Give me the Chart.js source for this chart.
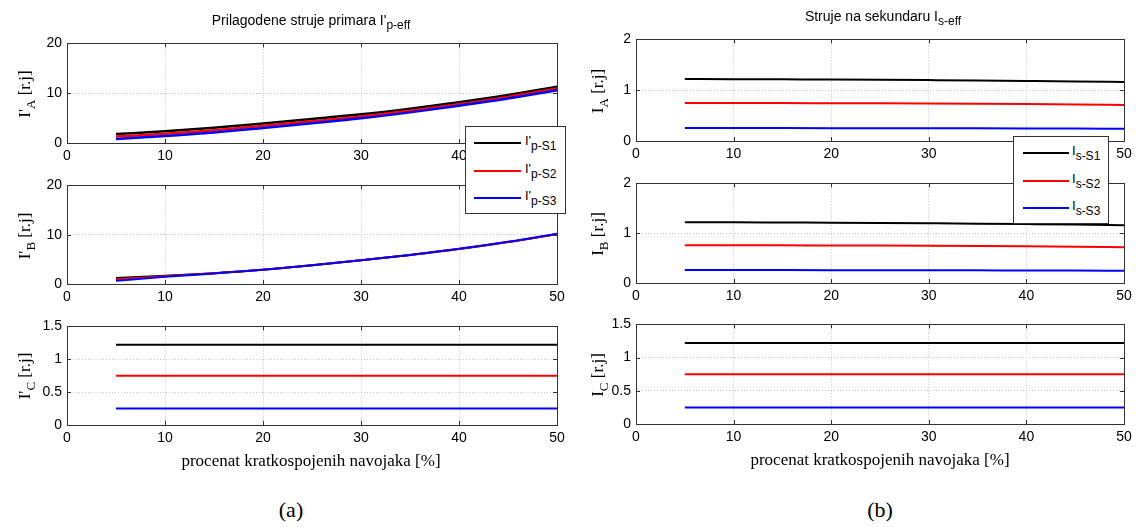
<!DOCTYPE html>
<html>
<head>
<meta charset="utf-8">
<script src="https://cdn.jsdelivr.net/npm/chart.js@4.4.1/dist/chart.umd.min.js"></script>
<style>
body { margin: 0; background: #fff; }
#page { position: relative; width: 1136px; height: 527px; overflow: hidden; font-family: "Liberation Sans", Arial, sans-serif; color: #000; }
canvas { position: absolute; }
.title { position: absolute; font-size: 14px; line-height: 16px; white-space: nowrap; transform: translateX(-50%); }
.title sub { font-size: 12px; vertical-align: -4px; line-height: 0; }
.ylab { position: absolute; font-family: "Liberation Serif", "Times New Roman", serif; font-size: 17px; line-height: 17px; white-space: nowrap; transform: translate(-50%, -50%) rotate(-90deg); }
.ylab sub { font-size: 13px; vertical-align: -5px; line-height: 0; }
.xlab { position: absolute; font-family: "Liberation Serif", "Times New Roman", serif; font-size: 17px; line-height: 17px; white-space: nowrap; transform: translateX(-50%); }
.cap { position: absolute; font-family: "Liberation Serif", "Times New Roman", serif; font-size: 22px; line-height: 22px; transform: translateX(-50%); }
.legend { position: absolute; background: #fff; border: 1px solid #333; z-index: 5; }
.legend .swatch { position: absolute; height: 2px; }
.legend .txt { position: absolute; font-size: 13px; line-height: 14px; white-space: nowrap; }
.legend .txt sub { font-size: 12px; vertical-align: -5px; line-height: 0; }
</style>
</head>
<body>
<div id="page">
  <canvas id="pA"></canvas>
  <canvas id="pB"></canvas>
  <canvas id="pC"></canvas>
  <canvas id="sA"></canvas>
  <canvas id="sB"></canvas>
  <canvas id="sC"></canvas>

  <div class="title" style="left:311px; top:12px;">Prilagodene struje primara I'<sub>p-eff</sub></div>
  <div class="title" style="left:883px; top:8px;">Struje na sekundaru I<sub>s-eff</sub></div>

  <div class="ylab" style="left:24px; top:94px;">I'<sub>A</sub> [r.j]</div>
  <div class="ylab" style="left:24px; top:236px;">I'<sub>B</sub> [r.j]</div>
  <div class="ylab" style="left:24px; top:376px;">I'<sub>C</sub> [r.j]</div>
  <div class="ylab" style="left:597px; top:91px;">I<sub>A</sub> [r.j]</div>
  <div class="ylab" style="left:597px; top:234px;">I<sub>B</sub> [r.j]</div>
  <div class="ylab" style="left:597px; top:375px;">I<sub>C</sub> [r.j]</div>

  <div class="xlab" style="left:311px; top:452px;">procenat kratkospojenih navojaka [%]</div>
  <div class="xlab" style="left:880px; top:451px;">procenat kratkospojenih navojaka [%]</div>

  <div class="cap" style="left:291px; top:499px;">(a)</div>
  <div class="cap" style="left:880px; top:499px;">(b)</div>

  <div class="legend" style="left:465px; top:126px; width:99px; height:86px;">
    <div class="swatch" style="left:8px; top:15px; width:47px; background:#000;"></div>
    <div class="txt" style="left:59px; top:7px;">I'<sub>p-S1</sub></div>
    <div class="swatch" style="left:8px; top:43px; width:47px; background:#ff0000;"></div>
    <div class="txt" style="left:59px; top:35px;">I'<sub>p-S2</sub></div>
    <div class="swatch" style="left:8px; top:70px; width:47px; background:#0000ff;"></div>
    <div class="txt" style="left:59px; top:62px;">I'<sub>p-S3</sub></div>
  </div>
  <div class="legend" style="left:1013px; top:136px; width:94px; height:86px;">
    <div class="swatch" style="left:9px; top:15px; width:46px; background:#000;"></div>
    <div class="txt" style="left:58px; top:7px;">I<sub>s-S1</sub></div>
    <div class="swatch" style="left:9px; top:43px; width:46px; background:#ff0000;"></div>
    <div class="txt" style="left:58px; top:35px;">I<sub>s-S2</sub></div>
    <div class="swatch" style="left:9px; top:70px; width:46px; background:#0000ff;"></div>
    <div class="txt" style="left:58px; top:62px;">I<sub>s-S3</sub></div>
  </div>
</div>

<script>
// procenat kratkospojenih navojaka [%]
const xValues = [5, 10, 15, 20, 25, 30, 35, 40, 45, 50];
const xTicks = [0, 10, 20, 30, 40, 50];

// tick labels per panel
const yTicksPrimAB = [0, 10, 20];
const yTicksSecAB = [0, 1, 2];
const yTicksC = [0, 0.5, 1, 1.5];

// prilagodene struje primara I'
const primAS1 = [1.8, 2.35, 3.05, 3.9, 4.8, 5.75, 6.9, 8.2, 9.65, 11.3];
const primAS2 = [1.3, 1.85, 2.55, 3.45, 4.35, 5.3, 6.5, 7.8, 9.25, 10.95];
const primAS3 = [0.8, 1.4, 2.1, 3.0, 3.95, 4.95, 6.15, 7.5, 8.95, 10.6];

const primBS1 = [1.2, 1.65, 2.2, 2.9, 3.8, 4.8, 5.9, 7.1, 8.5, 10.1];
const primBS2 = [0.95, 1.55, 2.2, 2.9, 3.8, 4.8, 5.9, 7.1, 8.5, 10.15];
const primBS3 = [0.65, 1.45, 2.15, 2.9, 3.8, 4.8, 5.9, 7.15, 8.55, 10.2];

const primCS1 = [1.22, 1.22, 1.22, 1.22, 1.22, 1.22, 1.22, 1.22, 1.22, 1.22];
const primCS2 = [0.75, 0.75, 0.75, 0.75, 0.75, 0.75, 0.75, 0.75, 0.75, 0.75];
const primCS3 = [0.25, 0.25, 0.25, 0.25, 0.25, 0.25, 0.25, 0.25, 0.25, 0.25];

// struje na sekundaru I
const secAS1 = [1.22, 1.218, 1.214, 1.21, 1.205, 1.199, 1.192, 1.183, 1.173, 1.16];
const secAS2 = [0.75, 0.749, 0.747, 0.744, 0.741, 0.737, 0.732, 0.726, 0.719, 0.71];
const secAS3 = [0.255, 0.255, 0.254, 0.253, 0.252, 0.251, 0.249, 0.247, 0.245, 0.242];

const secBS1 = [1.22, 1.218, 1.214, 1.21, 1.205, 1.199, 1.192, 1.183, 1.173, 1.16];
const secBS2 = [0.76, 0.759, 0.757, 0.754, 0.751, 0.747, 0.742, 0.736, 0.729, 0.72];
const secBS3 = [0.26, 0.26, 0.259, 0.258, 0.257, 0.256, 0.254, 0.252, 0.25, 0.247];

const secCS1 = [1.22, 1.22, 1.22, 1.22, 1.22, 1.22, 1.22, 1.22, 1.22, 1.22];
const secCS2 = [0.75, 0.75, 0.75, 0.75, 0.75, 0.75, 0.75, 0.75, 0.75, 0.75];
const secCS3 = [0.25, 0.25, 0.25, 0.25, 0.25, 0.25, 0.25, 0.25, 0.25, 0.25];

const seriesColors = ['#000000', '#ff0000', '#0000ff'];

// matlab style box round the plot area with inward ticks
const boxPlugin = {
    id: 'matlabBox',
    afterDatasetsDraw: (chart) => {
        let ctx = chart.ctx;
        let a = chart.chartArea;
        let xs = chart.scales.x;
        let ys = chart.scales.y;
        ctx.save();
        ctx.strokeStyle = '#333';
        ctx.lineWidth = 1;
        ctx.beginPath();
        xs.ticks.forEach(t => {
            let px = Math.round(xs.getPixelForValue(t.value)) + 0.5;
            ctx.moveTo(px, a.bottom); ctx.lineTo(px, a.bottom - 4);
            ctx.moveTo(px, a.top); ctx.lineTo(px, a.top + 4);
        });
        ys.ticks.forEach(t => {
            let py = Math.round(ys.getPixelForValue(t.value)) + 0.5;
            ctx.moveTo(a.left, py); ctx.lineTo(a.left + 4, py);
            ctx.moveTo(a.right, py); ctx.lineTo(a.right - 4, py);
        });
        ctx.stroke();
        ctx.strokeRect(Math.round(a.left) + 0.5, Math.round(a.top) + 0.5, Math.round(a.right - a.left), Math.round(a.bottom - a.top));
        ctx.restore();
    }
};

function makePanel(id, box, yTicks, series, lineWidth) {
    let padL = 45, padT = 12, padR = 15, padB = 30;
    let canvas = document.getElementById(id);
    let w = box.x1 - box.x0, h = box.y1 - box.y0;
    canvas.style.left = (box.x0 - padL) + 'px';
    canvas.style.top = (box.y0 - padT) + 'px';
    canvas.width = w + padL + padR;
    canvas.height = h + padT + padB;

    let tickFont = { family: '"Liberation Sans", Arial, sans-serif', size: 14 };

    new Chart(canvas.getContext('2d'), {
        type: 'line',
        data: {
            datasets: series.map((values, i) => ({
                data: xValues.map((x, j) => ({ x: x, y: values[j] })),
                borderColor: seriesColors[i],
                borderWidth: lineWidth,
                pointRadius: 0,
                cubicInterpolationMode: 'monotone',
                fill: false,
                order: 3 - i
            }))
        },
        options: {
            responsive: false,
            animation: false,
            events: [],
            layout: { padding: { top: padT, right: padR, left: 0, bottom: 0 } },
            plugins: { legend: { display: false }, tooltip: { enabled: false } },
            scales: {
                x: {
                    type: 'linear',
                    min: 0,
                    max: 50,
                    afterBuildTicks: s => { s.ticks = xTicks.map(v => ({ value: v })); },
                    afterFit: s => { s.height = padB; },
                    ticks: { font: tickFont, color: '#000', padding: 5, maxRotation: 0, autoSkip: false, callback: v => String(v) },
                    grid: { color: '#c4c4c4', lineWidth: 1, drawTicks: false },
                    border: { display: false, dash: [1, 2] }
                },
                y: {
                    type: 'linear',
                    min: yTicks[0],
                    max: yTicks[yTicks.length - 1],
                    afterBuildTicks: s => { s.ticks = yTicks.map(v => ({ value: v })); },
                    afterFit: s => { s.width = padL; },
                    ticks: { font: tickFont, color: '#000', padding: 5, autoSkip: false, callback: v => String(v) },
                    grid: { color: '#c4c4c4', lineWidth: 1, drawTicks: false },
                    border: { display: false, dash: [1, 2] }
                }
            }
        },
        plugins: [boxPlugin]
    });
}

makePanel('pA', { x0: 67, x1: 557, y0: 42, y1: 143 }, yTicksPrimAB, [primAS1, primAS2, primAS3], 2.5);
makePanel('pB', { x0: 67, x1: 557, y0: 184, y1: 284 }, yTicksPrimAB, [primBS1, primBS2, primBS3], 2);
makePanel('pC', { x0: 67, x1: 557, y0: 325, y1: 425 }, yTicksC, [primCS1, primCS2, primCS3], 2);
makePanel('sA', { x0: 636, x1: 1124, y0: 38, y1: 141 }, yTicksSecAB, [secAS1, secAS2, secAS3], 2);
makePanel('sB', { x0: 636, x1: 1124, y0: 182, y1: 283 }, yTicksSecAB, [secBS1, secBS2, secBS3], 2);
makePanel('sC', { x0: 636, x1: 1124, y0: 323, y1: 424 }, yTicksC, [secCS1, secCS2, secCS3], 2);
</script>
</body>
</html>
